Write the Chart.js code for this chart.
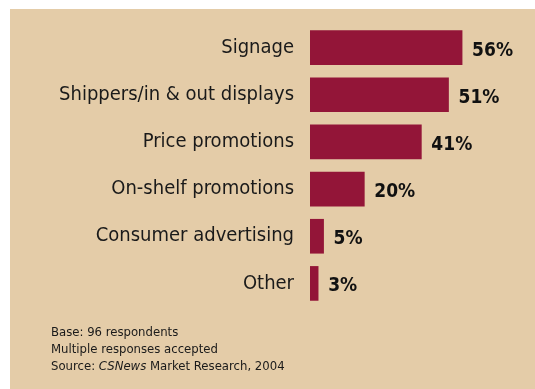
<!DOCTYPE html>
<html>
<head>
<meta charset="utf-8">
<script src="https://cdn.jsdelivr.net/npm/chart.js@4/dist/chart.umd.min.js"></script>
<style>
  html, body { margin: 0; padding: 0; background: #fff; }
  #wrap { position: relative; width: 535px; height: 389px; }
</style>
</head>
<body>
<div id="wrap"><canvas id="promoChart" width="535" height="389"></canvas></div>
<script>
const categories = ['Signage', 'Shippers/in & out displays', 'Price promotions', 'On-shelf promotions', 'Consumer advertising', 'Other'];
const shares = [56, 51, 41, 20, 5, 3];
const notes = ['Base: 96 respondents', 'Multiple responses accepted'];

const FONT = "'DejaVu Sans Condensed', 'Liberation Sans', sans-serif";
const PANEL = '#e4cca8';
const BAR = '#931538';

// beige panel behind everything
const panelBg = {
  id: 'panelBg',
  beforeDraw(chart) {
    const c = chart.ctx;
    c.save();
    c.fillStyle = PANEL;
    c.fillRect(10, 9, chart.width - 10, chart.height - 9);
    c.restore();
  }
};

// percentage labels at the end of each bar + footnote lines
const barValues = {
  id: 'barValues',
  afterDatasetsDraw(chart) {
    const c = chart.ctx;
    const meta = chart.getDatasetMeta(0);
    c.save();
    c.fillStyle = '#111';
    c.font = 'bold 19px ' + FONT;
    c.textAlign = 'left';
    c.textBaseline = 'alphabetic';
    meta.data.forEach((bar, i) => {
      c.fillText(shares[i] + '%', bar.x + 10, bar.y + 8);
    });

    c.font = '13px ' + FONT;
    c.fillStyle = '#1a1a1a';
    let y = 336;
    notes.forEach(line => {
      c.fillText(line, 51, y);
      y += 17;
    });
    // source line with the italic publication name
    let x = 51;
    const parts = [['Source: ', ''], ['CSNews', 'italic '], [' Market Research, 2004', '']];
    parts.forEach(([txt, style]) => {
      c.font = style + '13px ' + FONT;
      c.fillText(txt, x, y);
      x += c.measureText(txt).width;
    });
    c.restore();
  }
};

new Chart(document.getElementById('promoChart'), {
  type: 'bar',
  data: {
    labels: categories,
    datasets: [{
      data: shares,
      backgroundColor: BAR,
      borderWidth: 0,
      barThickness: 34
    }]
  },
  options: {
    indexAxis: 'y',
    responsive: false,
    animation: false,
    layout: { padding: { top: 24, bottom: 82, left: 0, right: 5 } },
    plugins: {
      legend: { display: false },
      tooltip: { enabled: false }
    },
    scales: {
      x: {
        display: false,
        min: 0,
        max: 81
      },
      y: {
        grid: { display: false, drawTicks: false },
        border: { display: false },
        ticks: {
          padding: 16,
          color: '#1a1a1a',
          font: { family: FONT, size: 20 }
        },
        afterFit(scale) {
          scale.width = 310;
          scale.paddingTop = 0;
          scale.paddingBottom = 0;
        }
      }
    }
  },
  plugins: [panelBg, barValues]
});
</script>
</body>
</html>
